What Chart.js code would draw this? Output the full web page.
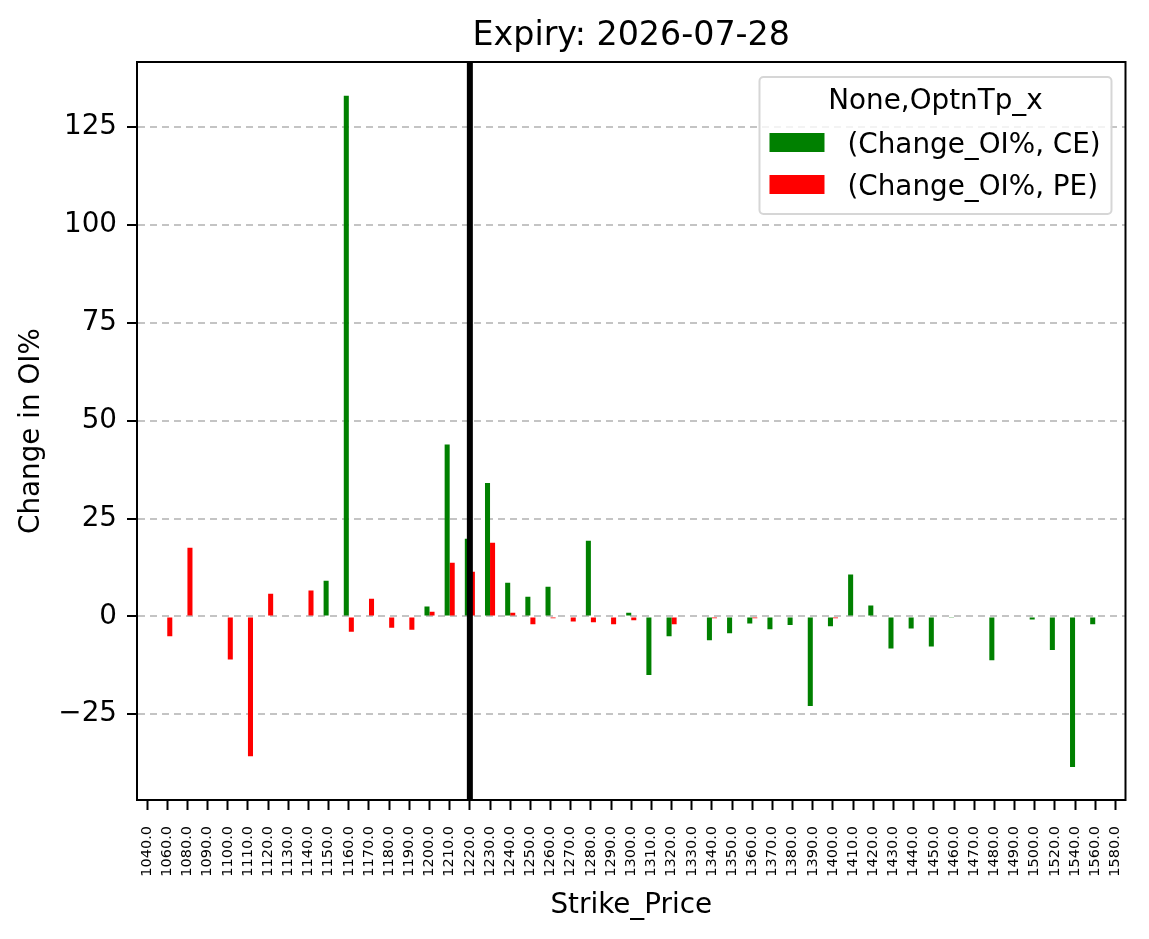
<!DOCTYPE html>
<html>
<head>
<meta charset="utf-8">
<script src="https://cdn.jsdelivr.net/npm/chart.js@4.4.1/dist/chart.umd.min.js"></script>
<style>
  html, body { margin: 0; padding: 0; background: #fff; }
</style>
</head>
<body>
<canvas id="oiChart" width="1149" height="939"></canvas>
<script>
// strike prices (x categories)
const strikes = ['1040.0', '1060.0', '1080.0', '1090.0', '1100.0', '1110.0', '1120.0', '1130.0', '1140.0', '1150.0',
    '1160.0', '1170.0', '1180.0', '1190.0', '1200.0', '1210.0', '1220.0', '1230.0', '1240.0', '1250.0',
    '1260.0', '1270.0', '1280.0', '1290.0', '1300.0', '1310.0', '1320.0', '1330.0', '1340.0', '1350.0',
    '1360.0', '1370.0', '1380.0', '1390.0', '1400.0', '1410.0', '1420.0', '1430.0', '1440.0', '1450.0',
    '1460.0', '1470.0', '1480.0', '1490.0', '1500.0', '1520.0', '1540.0', '1560.0', '1580.0'];

// (Change_OI%, CE)
const ceChange = [0, 0, 0, 0, 0, 0, 0, 0, 0, 9.1,
    133.0, 0, 0, 0, 2.5, 43.9, 19.8, 34.1, 8.6, 5.0,
    7.6, 0, 19.3, 0, 0.9, -15.0, -5.1, 0, -6.1, -4.3,
    -1.8, -3.3, -2.2, -22.9, -2.5, 10.7, 2.8, -8.2, -3.1, -7.7,
    -0.2, 0, -11.2, 0, -0.8, -8.6, -38.5, -2.0, 0];

// (Change_OI%, PE)
const peChange = [0, -5.1, 17.5, 0, -11.0, -35.7, 5.8, 0, 6.6, -0.3,
    -3.9, 4.5, -2.9, -3.4, 1.2, 13.7, 11.4, 18.8, 0.9, -2.0,
    -0.5, -1.3, -1.5, -2.0, -1.0, 0, -2.0, -0.3, -0.5, -0.3,
    -0.5, 0, 0, 0, -0.5, 0, 0, 0, 0, 0,
    0, 0, 0, 0, 0, 0, 0, 0, 0];

const yTicks = [-25, 0, 25, 50, 75, 100, 125];
const spotStrike = '1220.0';
const chartTitle = 'Expiry: 2026-07-28';
const legendTitle = 'None,OptnTp_x';
const seriesNames = ['(Change_OI%, CE)', '(Change_OI%, PE)'];
const seriesColors = ['#008000', '#ff0000'];

const FONT = 'DejaVu Sans';

const ctx = document.getElementById('oiChart').getContext('2d');
const oiChart = new Chart(ctx, {
    type: 'bar',
    data: {
        labels: strikes,
        datasets: [
            { data: ceChange, backgroundColor: seriesColors[0], borderWidth: 0, barPercentage: 1.0, categoryPercentage: 0.5 },
            { data: peChange, backgroundColor: seriesColors[1], borderWidth: 0, barPercentage: 1.0, categoryPercentage: 0.5 }
        ]
    },
    options: {
        responsive: false,
        animation: false,
        devicePixelRatio: 1,
        layout: { padding: { left: 0, right: 19, top: 62, bottom: 0 } },
        plugins: {
            legend: { display: false },
            tooltip: { enabled: false },
            title: { display: false }
        },
        scales: {
            x: {
                afterFit(s) { s.height = 139; },
                ticks: {
                    autoSkip: false,
                    minRotation: 90,
                    maxRotation: 90,
                    color: '#000',
                    padding: 16,
                    font: { family: FONT, size: 14.5 }
                },
                grid: { offset: false, drawOnChartArea: false, tickColor: '#000', tickLength: 10, tickWidth: 2 },
                border: { color: '#000', width: 2 },
                title: {
                    display: true,
                    text: 'Strike_Price',
                    color: '#000',
                    font: { family: FONT, size: 27.8 },
                    padding: { top: 0, bottom: 17 }
                }
            },
            y: {
                min: -46.9,
                max: 141.6,
                afterFit(s) { s.width = 137; },
                afterBuildTicks(s) { s.ticks = yTicks.map(v => ({ value: v })); },
                ticks: {
                    color: '#000',
                    padding: 10,
                    font: { family: FONT, size: 27.8 },
                    callback: v => v < 0 ? '\u2212' + Math.abs(v) : String(v)
                },
                grid: { color: '#c4c4c4', lineWidth: 2, tickColor: '#000', tickLength: 10, tickWidth: 2 },
                border: { color: '#000', width: 2, dash: [7, 5] },
                title: {
                    display: true,
                    text: 'Change in OI%',
                    color: '#000',
                    font: { family: FONT, size: 27.8 },
                    padding: { top: 15, bottom: 0 }
                }
            }
        }
    }
});

// title, spot marker, frame and legend box on top of the rendered chart
function drawOverlay(chart) {
    const c = chart.ctx;
    const a = chart.chartArea;
    const px = chart.scales.x.getPixelForValue(strikes.indexOf(spotStrike));
    c.save();
    c.strokeStyle = '#000';
    c.lineWidth = 6;
    c.beginPath();
    c.moveTo(px, a.top);
    c.lineTo(px, a.bottom);
    c.stroke();
    c.lineWidth = 2;
    c.strokeRect(a.left, a.top, a.right - a.left, a.bottom - a.top);

    c.fillStyle = '#000';
    c.font = '33.3px "' + FONT + '"';
    c.textAlign = 'center';
    c.textBaseline = 'alphabetic';
    c.fillText(chartTitle, (a.left + a.right) / 2, 45);

    const w = 352, h = 137;
    const left = a.right - 14 - w;
    const top = a.top + 15;
    c.beginPath();
    if (c.roundRect) c.roundRect(left, top, w, h, 4);
    else c.rect(left, top, w, h);
    c.fillStyle = 'rgba(255,255,255,0.8)';
    c.fill();
    c.strokeStyle = '#d6d6d6';
    c.lineWidth = 2;
    c.stroke();

    c.fillStyle = '#000';
    c.font = '27.8px "' + FONT + '"';
    c.fillText(legendTitle, left + w / 2, top + 32);
    c.textAlign = 'left';
    seriesNames.forEach((name, i) => {
        const rowTop = top + 56 + i * 42;
        c.fillStyle = seriesColors[i];
        c.fillRect(left + 10, rowTop, 55, 19);
        c.fillStyle = '#000';
        c.fillText(name, left + 88, rowTop + 20);
    });
    c.restore();
}
drawOverlay(oiChart);
</script>
</body>
</html>
